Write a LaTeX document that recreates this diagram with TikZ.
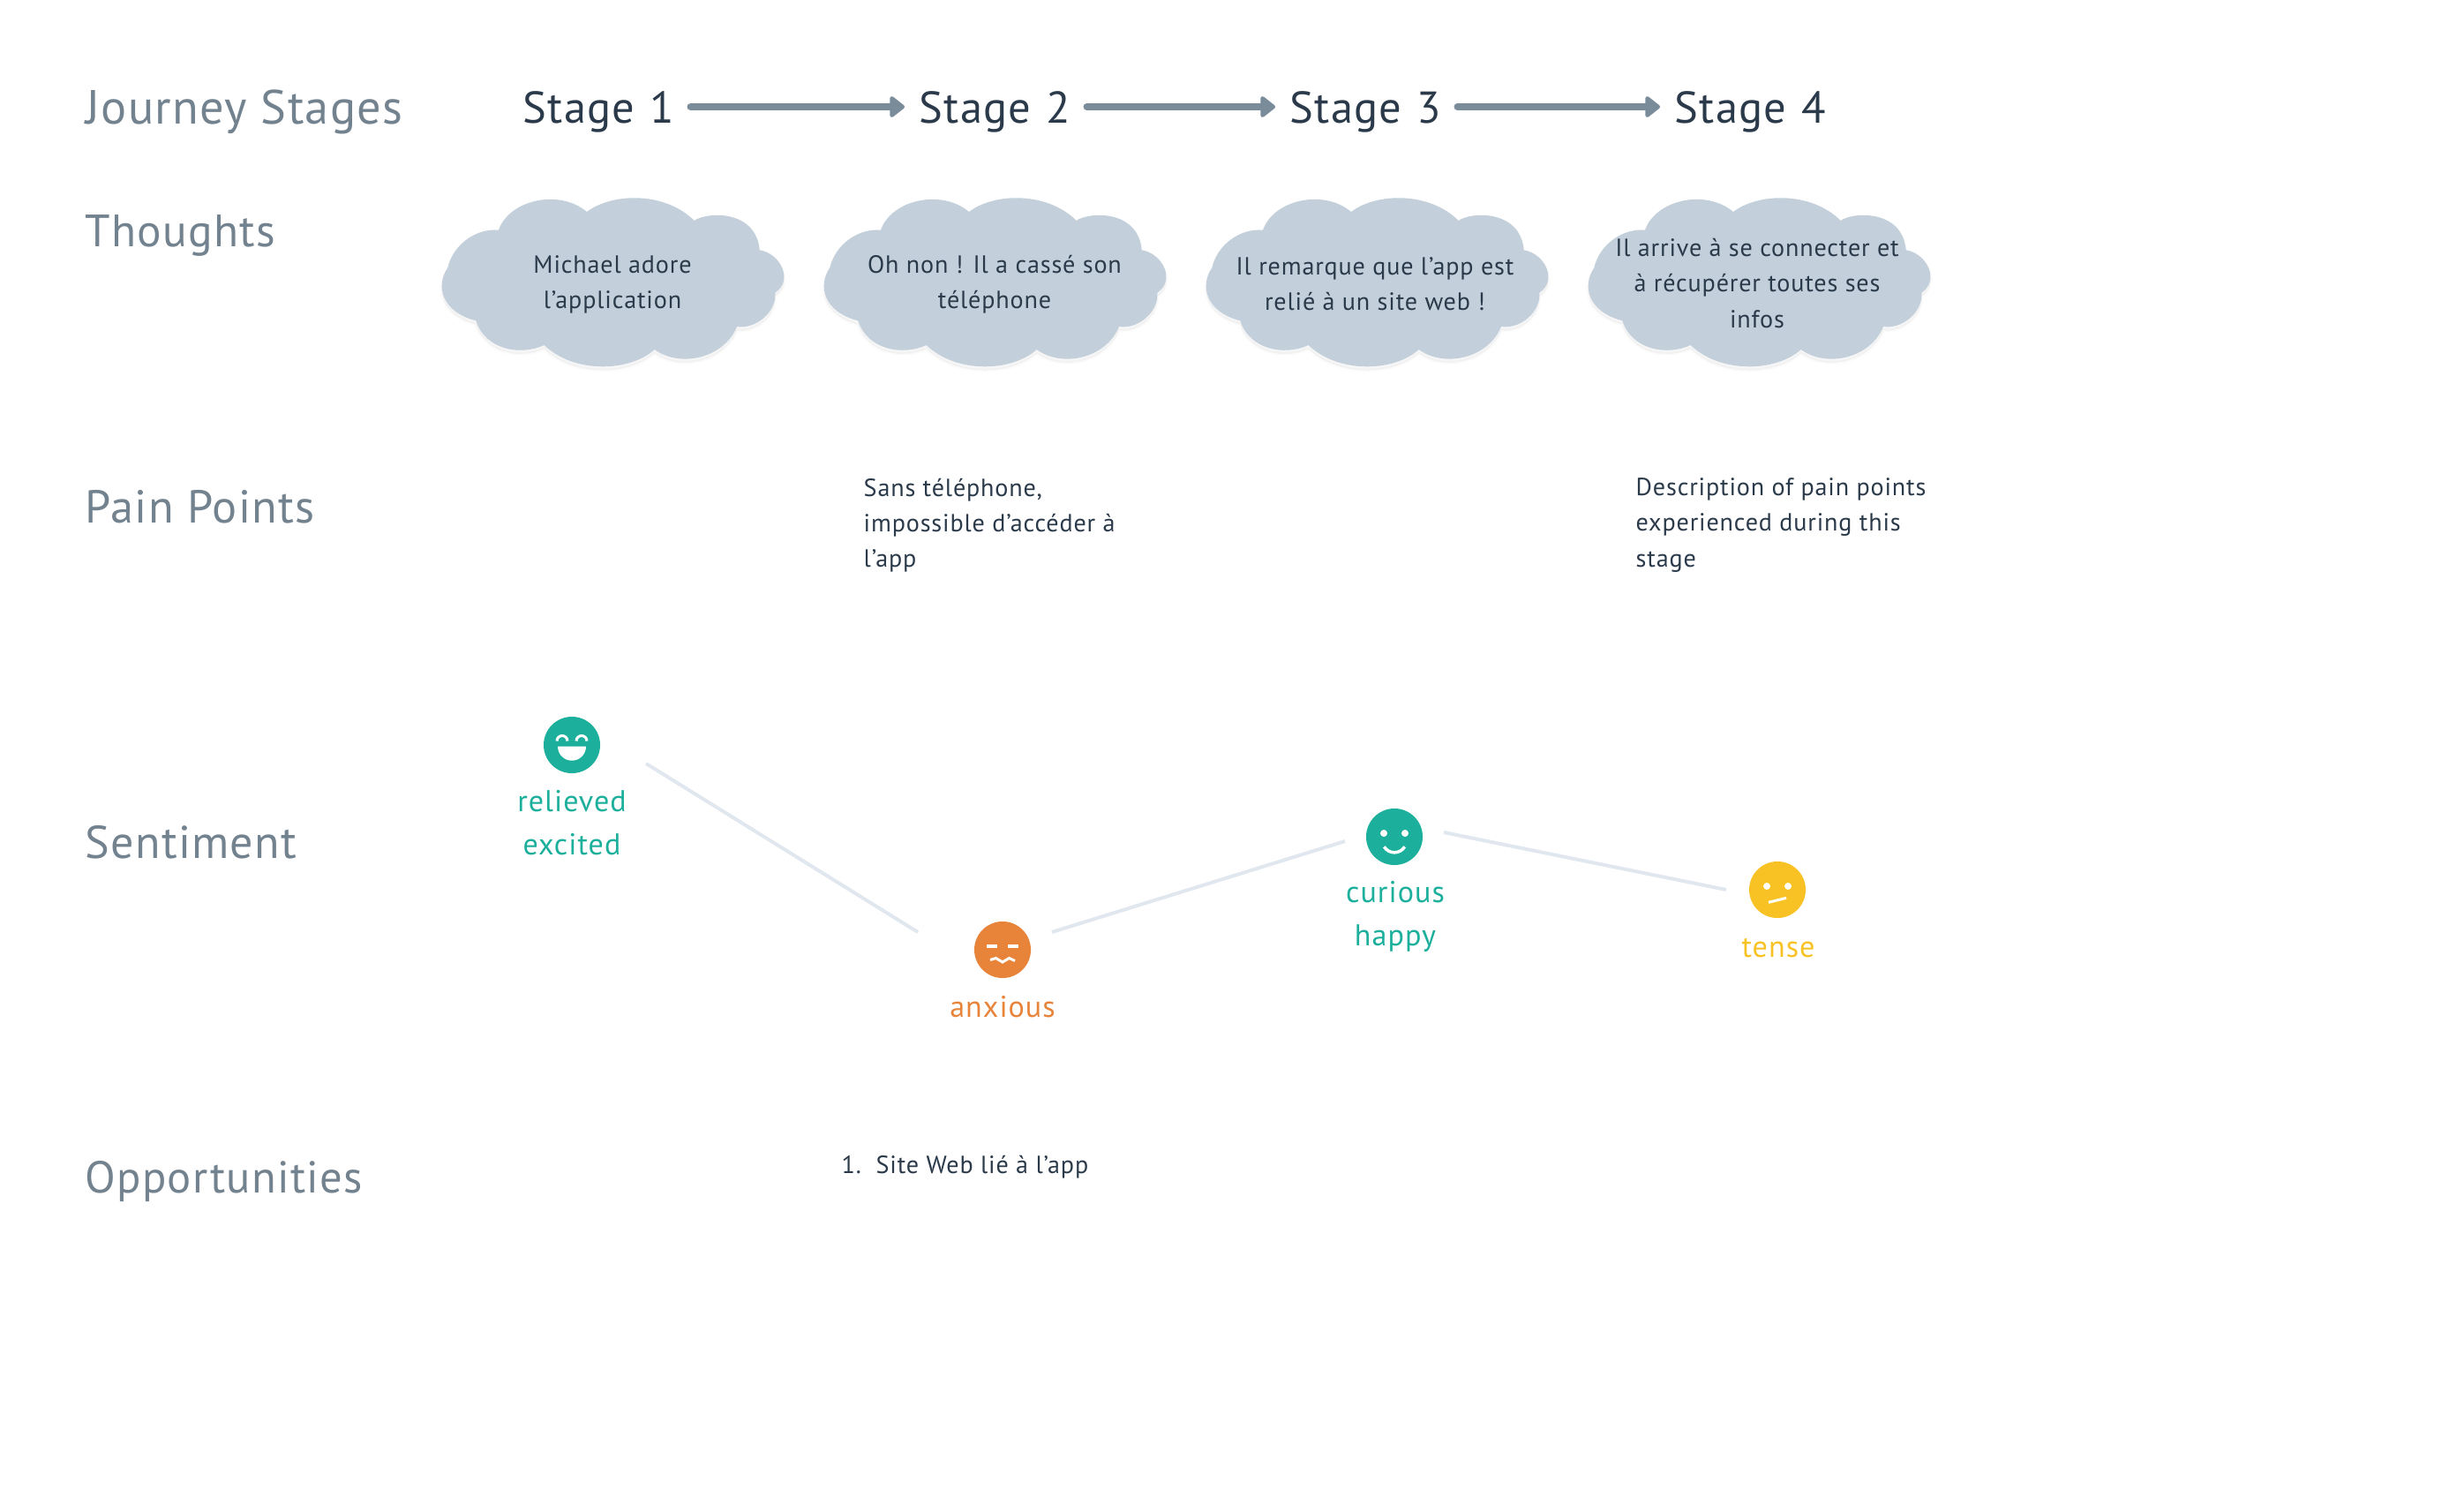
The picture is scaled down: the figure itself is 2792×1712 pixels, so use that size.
\documentclass[tikz,border=0pt]{standalone}
\usepackage{fontspec}
\setmainfont{PT Sans}
\newfontfamily\headfont[LetterSpace=2.5]{PT Sans}
\newfontfamily\bodyfont[LetterSpace=3]{PT Sans}
\usetikzlibrary{arrows.meta,calc}
\definecolor{labelgray}{HTML}{73828F}
\definecolor{inkdark}{HTML}{2B3A4A}
\definecolor{arrowgray}{HTML}{7A8B9A}
\definecolor{cloudblue}{HTML}{C3CFDA}
\definecolor{linepale}{HTML}{E1E7EF}
\definecolor{teal}{HTML}{1CAF9C}
\definecolor{orangeface}{HTML}{E8833A}
\definecolor{yellowface}{HTML}{F8C225}
\tikzset{
  rowlabel/.style={anchor=base west,inner sep=0pt,text=labelgray,font=\headfont\fontsize{#1}{18pt}\selectfont},
  stagelabel/.style={anchor=base west,inner ysep=0pt,inner xsep=16*0.2845pt,text width=173*0.2845pt,text=inkdark,font=\headfont\fontsize{14.35pt}{18pt}\selectfont,align=left},
  stagearrow/.style={draw=arrowgray,line width=0.08cm,line cap=round,-{Triangle[length=5.2pt,width=7.8pt,round]}},
  bodytext/.style={inner sep=0pt,text=inkdark,font=\bodyfont\fontsize{8pt}{11.4pt}\selectfont},
  thought/.style={bodytext,align=center},
  painbox/.style={bodytext,align=left,anchor=west},
  face/.style={circle,inner sep=0pt,minimum size=0.64cm,fill=#1},
  moodtext/.style={inner sep=0pt,align=center,anchor=base,text=#1,font=\bodyfont\fontsize{9.7pt}{13.66pt}\selectfont},
  feature/.style={draw=white,line width=0.03cm},
  sentline/.style={draw=linepale,line width=0.04cm},
  cloudshape/.style={fill=cloudblue}
}
\newcommand{\cloudoutline}{(255,212)
 .. controls (290,110) and (460,70) .. (555,150)
 .. controls (640,85) and (820,80) .. (920,180)
 .. controls (960,150) and (1130,140) .. (1142,280)
 .. controls (1210,290) and (1260,380) .. (1195,425)
 .. controls (1200,490) and (1130,550) .. (1065,540)
 .. controls (1020,650) and (870,680) .. (785,618)
 .. controls (700,695) and (510,700) .. (410,603)
 .. controls (330,640) and (210,620) .. (178,520)
 .. controls (60,490) and (40,400) .. (82,340)
 .. controls (100,260) and (180,205) .. (255,212) -- cycle}
\begin{document}
\begin{tikzpicture}[x=0.01cm,y=-0.01cm]
\useasboundingbox (0,0) rectangle (2792,1712);
% row labels
\node[rowlabel=15.45pt] (rJourney) at (97,140) {Journey Stages};
\node[rowlabel=14.6pt] (rThoughts) at (96,279) {Thoughts};
\node[rowlabel=14.9pt] (rPain) at (96,592) {Pain Points};
\node[rowlabel=14.8pt] (rSentiment) at (96,972) {Sentiment};
\node[rowlabel=14.4pt] (rOpp) at (96,1351) {Opportunities};
% stages
\node[stagelabel] (s1) at (576,139) {\mbox{Stage 1}};
\node[stagelabel] (s2) at (1025,139) {\mbox{Stage 2}};
\node[stagelabel] (s3) at (1445,139) {\mbox{Stage 3}};
\node[stagelabel] (s4) at (1881,139) {\mbox{Stage 4}};
\draw[stagearrow] (s1.base east) ++(0,-18) coordinate (a1) -- (a1 -| s2.west);
\draw[stagearrow] (s2.base east) ++(0,-18) coordinate (a2) -- (a2 -| s3.west);
\draw[stagearrow] (s3.base east) ++(0,-18) coordinate (a3) -- (a3 -| s4.west);
% clouds
\foreach \dx in {480,913,1346,1779}{
  \begin{scope}[shift={(\dx,190)},x=0.01cm/3,y=-0.01cm/3]
    \foreach \w in {0.05,0.03,0.015,0.005}{
      \fill[black,opacity=0.006,draw=black,line width=\w cm,shift={(0,12)}] \cloudoutline;
    }
    \fill[cloudshape] \cloudoutline;
  \end{scope}
}
\node[thought] (c1) at (694,322) {Michael adore\\l’application};
\node[thought] (c2) at (1127,322) {Oh non ! Il a cassé son\\téléphone};
\node[thought] (c3) at (1558,322) {Il remarque que l’app est\\relié à un site web !};
\node[thought] (c4) at (1991,321) {Il arrive à se connecter et\\à récupérer toutes ses\\infos};
% pain points
\node[painbox] (p2) at (978,595) {Sans téléphone,\\impossible d’accéder à\\l’app};
\node[painbox] (p4) at (1853,595) {Description of pain points\\experienced during this\\stage};
% sentiment faces
\node[face=teal] (f1) at (648,844) {};
\node[face=orangeface] (f2) at (1136,1076) {};
\node[face=teal] (f3) at (1580,948) {};
\node[face=yellowface] (f4) at (2014,1008) {};
% sentiment lines
\draw[sentline] ([shift={(84,21)}]f1.center) -- ([shift={(-96,-20)}]f2.center);
\draw[sentline] ([shift={(56,-20)}]f2.center) -- ([shift={(-56,5)}]f3.center);
\draw[sentline] ([shift={(56,-5)}]f3.center) -- ([shift={(-58,0)}]f4.center);
% face 1
\begin{scope}[shift={(f1.center)}]
  \draw[feature] (-17,-4.5) arc[start angle=180,end angle=360,radius=6];
  \draw[feature] (5,-4.5) arc[start angle=180,end angle=360,radius=6];
  \fill[white] (16,1.7) arc[start angle=0,end angle=180,radius=16] -- cycle;
\end{scope}
% face 2
\begin{scope}[shift={(f2.center)}]
  \fill[white] (-18,-6) rectangle (-6,-2.3);
  \fill[white] (6,-6) rectangle (18,-2.3);
  \draw[feature] (-14,11.5) -- (-7.5,9.5) -- (0,14) -- (7.5,9.5) -- (14,12.5);
\end{scope}
% face 3
\begin{scope}[shift={(f3.center)}]
  \fill[white] (-12,-4) circle[radius=4];
  \fill[white] (12,-4) circle[radius=4];
  \draw[feature,line width=0.035cm] (-11.7,11.3) .. controls (-6,20) and (6,20) .. (11.7,11.3);
\end{scope}
% face 4
\begin{scope}[shift={(f4.center)}]
  \fill[white] (-12,-4) circle[radius=4];
  \fill[white] (12,-4) circle[radius=4];
  \draw[feature] (-10,14.3) -- (10,9.3);
\end{scope}
% mood labels
\node[moodtext=teal] (m1) at (648,968) {relieved\\excited};
\node[moodtext=orangeface] (m2) at (1136,1152) {anxious};
\node[moodtext=teal] (m3) at (1581,1071) {curious\\happy};
\node[moodtext=yellowface] (m4) at (2015,1084) {tense};
% opportunities
\node[painbox] (o1) at (953,1322) {1.\ \ Site Web lié à l’app};
\end{tikzpicture}
\end{document}
